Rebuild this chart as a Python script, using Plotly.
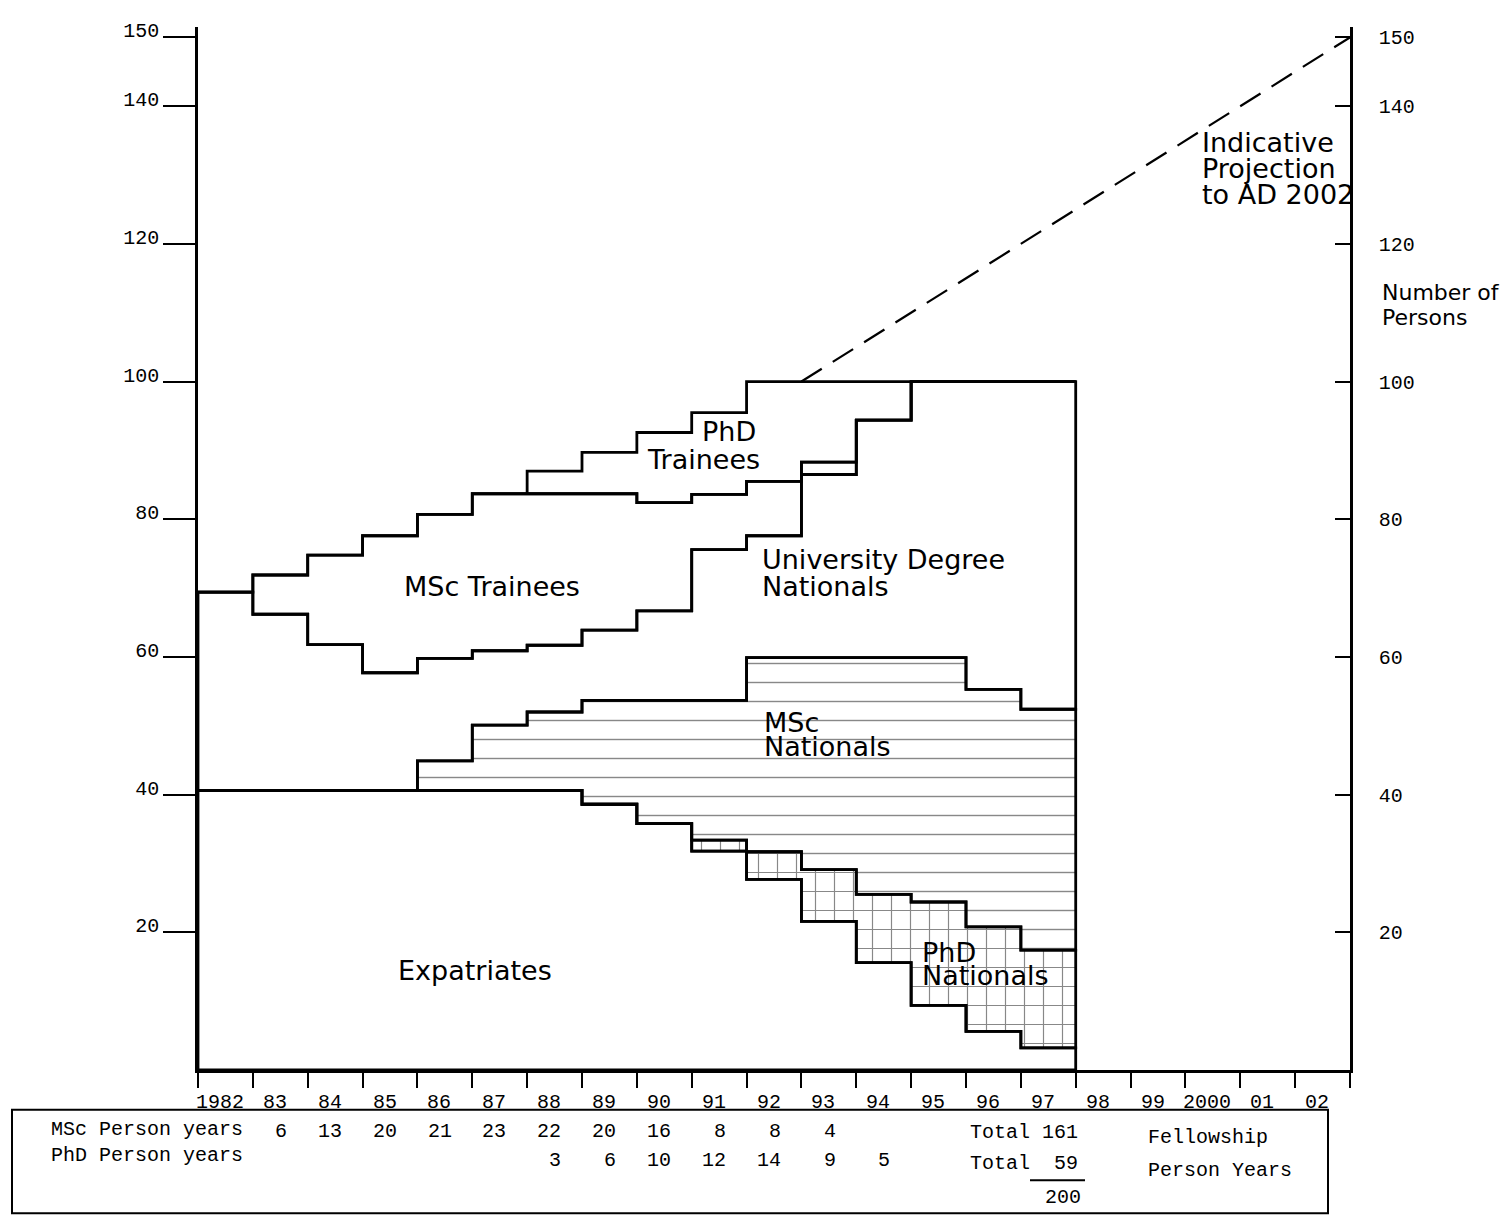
import plotly.graph_objects as go

# ---------------- data ----------------
years = list(range(1982, 1998))            # start of each one-year step
expatriates   = [40.6, 40.6, 40.6, 40.6, 40.6, 40.6, 40.6, 38.6, 35.8, 31.8, 27.7, 21.6, 15.6, 9.4, 5.6, 3.2]
phd_nationals = [0, 0, 0, 0, 0, 0, 0, 0, 0, 1.6, 4.0, 7.5, 9.9, 15.0, 15.2, 14.2]
msc_nationals = [0, 0, 0, 0, 4.3, 9.5, 11.4, 15.1, 17.9, 20.3, 28.2, 30.8, 34.4, 35.5, 34.5, 35.0]
univ_degree   = [28.8, 25.6, 21.2, 17.1, 14.9, 10.8, 9.7, 10.2, 13.0, 21.9, 17.7, 26.6, 34.5, 40.1, 44.7, 47.6]
msc_trainees  = [0, 5.7, 13.0, 19.9, 20.9, 22.8, 21.9, 19.8, 15.7, 8.0, 7.9, 1.8, 0, 0, 0, 0]
phd_trainees  = [0, 0, 0, 0, 0, 0, 3.4, 6.0, 10.2, 11.9, 14.5, 11.7, 5.6, 0, 0, 0]

projection_years = [1993, 2003]
projection_values = [100, 150]

tick_years = list(range(1982, 2004))
label_years = list(range(1982, 2003))
tick_labels = ["1982", "83", "84", "85", "86", "87", "88", "89", "90", "91", "92",
               "93", "94", "95", "96", "97", "98", "99", "2000", "01", "02"]
y_ticks = [20, 40, 60, 80, 100, 120, 140, 150]

msc_py_years = [1983, 1984, 1985, 1986, 1987, 1988, 1989, 1990, 1991, 1992, 1993]
msc_person_years = [6, 13, 20, 21, 23, 22, 20, 16, 8, 8, 4]
phd_py_years = [1988, 1989, 1990, 1991, 1992, 1993, 1994]
phd_person_years = [3, 6, 10, 12, 14, 9, 5]
msc_total = 161
phd_total = 59
grand_total = 200

# ---------------- geometry helpers ----------------
# the page body has an 8px margin, so the figure is drawn 8px right/down
OFF = 8
W, H = 1502, 1210
ML, MR, MT, MB = 190, 160, 13, 148
PW, PH = W - ML - MR, H - MT - MB


def xp(px):
    """screen pixel x -> paper x"""
    return (px - OFF - ML) / PW


def yp(py):
    """screen pixel y -> paper y"""
    return (H - MB - (py - OFF)) / PH


edges = years + [years[-1] + 1]
layers = [
    ("Expatriates", expatriates, None),
    ("PhD Nationals", phd_nationals, dict(shape="+", size=19, solidity=0.12, fgcolor="#111", bgcolor="white")),
    ("MSc Nationals", msc_nationals, dict(shape="-", size=19, solidity=0.075, fgcolor="#111", bgcolor="white")),
    ("University Degree Nationals", univ_degree, None),
    ("MSc Trainees", msc_trainees, None),
    ("PhD Trainees", phd_trainees, None),
]


def step_polygon(xe, bottom, top):
    xs, ys = [], []
    n = len(top)
    for i in range(n):
        xs += [xe[i], xe[i + 1]]
        ys += [top[i], top[i]]
    for i in range(n - 1, -1, -1):
        xs += [xe[i + 1], xe[i]]
        ys += [bottom[i], bottom[i]]
    xs.append(xs[0])
    ys.append(ys[0])
    return xs, ys


fig = go.Figure()
base = [0.0] * len(years)
polys = []
for name, vals, pattern in layers:
    top = [round(b + v, 3) for b, v in zip(base, vals)]
    xs, ys = step_polygon(edges, base, top)
    polys.append((name, xs, ys, pattern))
    base = top

# fills first
for name, xs, ys, pattern in polys:
    kw = dict(x=xs, y=ys, mode="lines", fill="toself", fillcolor="white",
              line=dict(width=0, color="rgba(0,0,0,0)"), hoverinfo="skip", name=name)
    if pattern:
        kw["fillpattern"] = pattern
    fig.add_trace(go.Scatter(**kw))
# outlines
for name, xs, ys, pattern in polys:
    fig.add_trace(go.Scatter(x=xs, y=ys, mode="lines", line=dict(color="black", width=2.8),
                             hoverinfo="skip", name=name))

# projection
fig.add_trace(go.Scatter(x=projection_years, y=projection_values, mode="lines", yaxis="y2",
                         line=dict(color="black", width=2.2, dash="24px,13px"), hoverinfo="skip"))

MONO = "Liberation Mono"
SANS = "DejaVu Sans"
ann = []
mono_font = dict(family=MONO, size=20, color="black")

# x tick labels (centered in each year interval)
for yr, lab in zip(label_years, tick_labels):
    ann.append(dict(x=yr + 0.4, y=yp(1103), xref="x", yref="paper", text=lab, showarrow=False,
                    xanchor="center", yanchor="middle", font=mono_font))

# table
ann.append(dict(x=xp(49), y=yp(1130), xref="paper", yref="paper", text="MSc Person years", showarrow=False,
                xanchor="left", yanchor="middle", font=mono_font))
ann.append(dict(x=xp(49), y=yp(1156), xref="paper", yref="paper", text="PhD Person years", showarrow=False,
                xanchor="left", yanchor="middle", font=mono_font))
for yr, v in zip(msc_py_years, msc_person_years):
    ann.append(dict(x=yr + 0.66, y=yp(1132), xref="x", yref="paper", text=str(v), showarrow=False,
                    xanchor="right", yanchor="middle", font=mono_font))
for yr, v in zip(phd_py_years, phd_person_years):
    ann.append(dict(x=yr + 0.66, y=yp(1161), xref="x", yref="paper", text=str(v), showarrow=False,
                    xanchor="right", yanchor="middle", font=mono_font))
ann.append(dict(x=xp(968), y=yp(1133), xref="paper", yref="paper", text=f"Total {msc_total}", showarrow=False,
                xanchor="left", yanchor="middle", font=mono_font))
ann.append(dict(x=xp(968), y=yp(1164), xref="paper", yref="paper", text=f"Total  {phd_total}", showarrow=False,
                xanchor="left", yanchor="middle", font=mono_font))
ann.append(dict(x=xp(1083), y=yp(1198), xref="paper", yref="paper", text=str(grand_total), showarrow=False,
                xanchor="right", yanchor="middle", font=mono_font))
ann.append(dict(x=xp(1146), y=yp(1138), xref="paper", yref="paper", text="Fellowship", showarrow=False,
                xanchor="left", yanchor="middle", font=mono_font))
ann.append(dict(x=xp(1146), y=yp(1171), xref="paper", yref="paper", text="Person Years", showarrow=False,
                xanchor="left", yanchor="middle", font=mono_font))

# region labels
labels = [
    ("PhD", 700, 428), ("Trainees", 645, 456),
    ("MSc Trainees", 402, 584),
    ("University Degree", 760, 557), ("Nationals", 760, 584),
    ("MSc", 762, 720), ("Nationals", 762, 745),
    ("PhD", 920, 952), ("Nationals", 920, 975),
    ("Expatriates", 396, 970),
    ("Indicative", 1200, 137), ("Projection", 1200, 163), ("to AD 2002", 1200, 189),
]
for t, x, y in labels:
    ann.append(dict(x=xp(x), y=yp(y), xref="paper", yref="paper", text=t, showarrow=False,
                    xanchor="left", yanchor="middle", font=dict(family=SANS, size=27, color="black")))
for t, x, y in [("Number of", 1380, 288), ("Persons", 1380, 313)]:
    ann.append(dict(x=xp(x), y=yp(y), xref="paper", yref="paper", text=t, showarrow=False,
                    xanchor="left", yanchor="middle", font=dict(family=SANS, size=22, color="black")))

shapes = [
    dict(type="rect", xref="paper", yref="paper", x0=xp(12), x1=xp(1328), y0=yp(1214), y1=yp(1110),
         line=dict(color="black", width=2)),
    dict(type="line", xref="paper", yref="paper", x0=xp(1030), x1=xp(1085), y0=yp(1181), y1=yp(1181),
         line=dict(color="black", width=2)),
]

axis_font = dict(family=MONO, size=20, color="black")
fig.update_layout(
    width=W, height=H,
    margin=dict(l=ML, r=MR, t=MT, b=MB),
    paper_bgcolor="white", plot_bgcolor="white",
    showlegend=False,
    annotations=ann, shapes=shapes,
    xaxis=dict(range=[1982, 2003], showgrid=False, zeroline=False, showline=True, linecolor="black",
               linewidth=2.5, ticks="outside", ticklen=15, tickwidth=2, tickcolor="black",
               tickvals=tick_years, showticklabels=False, fixedrange=True),
    yaxis=dict(range=[0, 151.5], showgrid=False, zeroline=False, showline=True, linecolor="black",
               linewidth=2.5, ticks="outside", ticklen=32, tickwidth=2, tickcolor="black",
               tickvals=y_ticks, ticktext=[str(v) for v in y_ticks], tickfont=axis_font,
               ticklabelshift=-7, ticklabelstandoff=0),
    yaxis2=dict(range=[0, 151.5], overlaying="y", side="right", anchor="x", showgrid=False,
                zeroline=False, showline=True, linecolor="black", linewidth=2.5, ticks="inside",
                ticklen=15, tickwidth=2, tickcolor="black", tickvals=y_ticks,
                ticktext=[str(v) for v in y_ticks], tickfont=axis_font, ticklabelstandoff=22),
)

fig.write_html("out.html")
